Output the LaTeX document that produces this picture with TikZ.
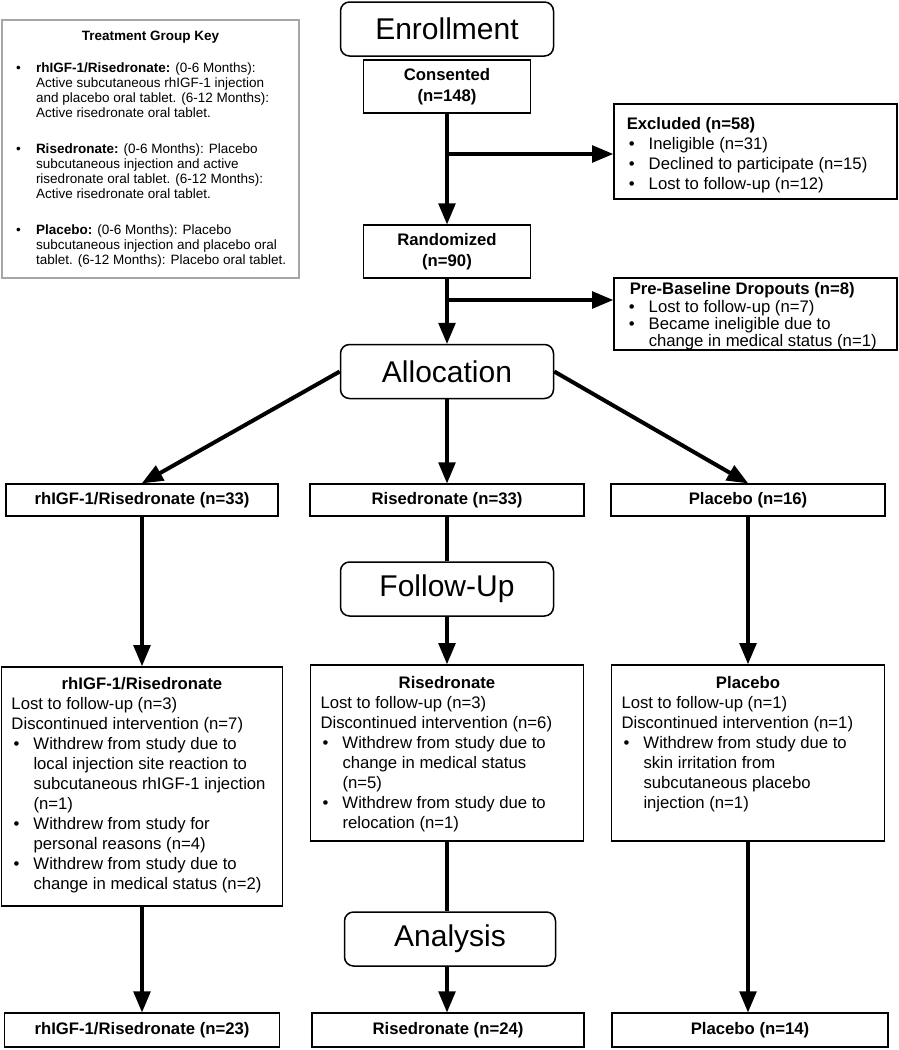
\documentclass[tikz,border=0pt]{standalone}
\usepackage{fontspec}
\setmainfont{Liberation Sans}
\usetikzlibrary{positioning,arrows,calc}
\tikzset{
  stagebox/.style = {shape=rectangle, rounded corners=9pt, draw,
                     line width=1.5pt, inner sep=0pt,
                     minimum width=213pt, minimum height=54pt,
                     font=\fontsize{30}{36}\selectfont},
  countbox/.style = {shape=rectangle, draw, line width=1.5pt,
                     align=center, inner sep=0pt,
                     font=\fontsize{16.7}{21}\selectfont\bfseries},
  listbox/.style  = {shape=rectangle, draw, line width=1.5pt,
                     anchor=north west, inner xsep=13pt,
                     font=\fontsize{16.7}{20}\selectfont},
  armbox/.style   = {shape=rectangle, draw, line width=1.5pt, anchor=north,
                     inner xsep=10pt, inner ysep=12pt,
                     font=\fontsize{16.7}{20}\selectfont},
  keybox/.style   = {shape=rectangle, draw=black!35, line width=2pt,
                     anchor=north west, inner xsep=12pt, inner ysep=11pt,
                     font=\fontsize{13.5}{15}\selectfont},
  flow/.style     = {->, line width=4pt},
  link/.style     = {line width=4pt}
}
\newcommand{\bitem}[1]{\par\noindent\hangindent=22pt\hangafter=1%
  \makebox[22pt][l]{\hspace{2pt}\textbullet}{\let\\\newline #1}\par}

\begin{document}
\begin{tikzpicture}[x=1pt, y=-1pt, >=triangle 45]
\useasboundingbox (0,0) rectangle (898,1050);

% key
\node [keybox] (key) at (1,19) {\parbox[c][236pt][t]{273pt}{\raggedright
  {\centering\bfseries Treatment Group Key\par}
  \vspace{17pt}
  \bitem{\textbf{rhIGF-1/Risedronate:} (0-6 Months):\\Active subcutaneous rhIGF-1 injection\\and placebo oral tablet. (6-12 Months):\\Active risedronate oral tablet.}
  \vspace{21pt}
  \bitem{\textbf{Risedronate:} (0-6 Months): Placebo\\subcutaneous injection and active\\risedronate oral tablet. (6-12 Months):\\Active risedronate oral tablet.}
  \vspace{21pt}
  \bitem{\textbf{Placebo:} (0-6 Months): Placebo\\subcutaneous injection and placebo oral\\tablet. (6-12 Months): Placebo oral tablet.}}};

% enrollment
\node [stagebox] (enroll) at (447,29) {Enrollment};
\node [countbox, minimum width=167pt, minimum height=53pt] (cons) at (447,86.5) {Consented\\(n=148)};
\node [listbox, inner ysep=14pt] (excl) at (613,103) {\parbox[c][67pt][t]{257pt}{\raggedright
  \textbf{Excluded (n=58)}\par
  \bitem{Ineligible (n=31)}
  \bitem{Declined to participate (n=15)}
  \bitem{Lost to follow-up (n=12)}}};
\node [countbox, minimum width=167pt, minimum height=53pt] (rand) at (447,251.5) {Randomized\\(n=90)};
\node [listbox, inner ysep=5pt, font=\fontsize{16.7}{17.3}\selectfont] (drop) at (613,277) {\parbox[c][62pt][t]{257pt}{\raggedright
  \hspace*{3pt}\textbf{Pre-Baseline Dropouts (n=8)}\par
  \bitem{Lost to follow-up (n=7)}
  \bitem{Became ineligible due to\\change in medical status (n=1)}}};

% allocation
\node [stagebox] (alloc) at (447,371.5) {Allocation};
\node [countbox, minimum width=272pt, minimum height=32pt] (rh2)  at (142,500) {rhIGF-1/Risedronate (n=33)};
\node [countbox, minimum width=274pt, minimum height=32pt] (ris2) at (447,500) {Risedronate (n=33)};
\node [countbox, minimum width=274pt, minimum height=32pt] (pla2) at (748,500) {Placebo (n=16)};

% follow-up
\node [stagebox] (follow) at (447,589) {Follow-Up};
\node [armbox, inner ysep=11pt] (rh3) at (142,666) {\parbox[c][217pt][t]{261pt}{\raggedright
  {\centering\bfseries rhIGF-1/Risedronate\par}
  Lost to follow-up (n=3)\\
  Discontinued intervention (n=7)\par
  \bitem{Withdrew from study due to\\local injection site reaction to\\subcutaneous rhIGF-1 injection\\(n=1)}
  \bitem{Withdrew from study for\\personal reasons (n=4)}
  \bitem{Withdrew from study due to\\change in medical status (n=2)}}};
\node [armbox] (ris3) at (447,664) {\parbox[c][152pt][t]{253pt}{\raggedright
  {\centering\bfseries Risedronate\par}
  Lost to follow-up (n=3)\\
  Discontinued intervention (n=6)\par
  \bitem{Withdrew from study due to\\change in medical status\\(n=5)}
  \bitem{Withdrew from study due to\\relocation (n=1)}}};
\node [armbox] (pla3) at (748,664) {\parbox[c][152pt][t]{253pt}{\raggedright
  {\centering\bfseries Placebo\par}
  Lost to follow-up (n=1)\\
  Discontinued intervention (n=1)\par
  \bitem{Withdrew from study due to\\skin irritation from\\subcutaneous placebo\\injection (n=1)}}};

% analysis
\node [stagebox, minimum width=211pt] (anal) at (450,939) {Analysis};
\node [countbox, minimum width=275pt, minimum height=34pt] (rh4)  at (142,1030) {rhIGF-1/Risedronate (n=23)};
\node [countbox, minimum width=272pt, minimum height=34pt] (ris4) at (448,1030) {Risedronate (n=24)};
\node [countbox, minimum width=276pt, minimum height=34pt] (pla4) at (750,1030) {Placebo (n=14)};

% connectors
\coordinate (split1) at (447,154);
\coordinate (split2) at (447,300);
\draw [flow] (cons) -- (rand);
\draw [flow] (split1) -- (split1 -| excl.west);
\draw [flow] (rand) -- (alloc);
\draw [flow] (split2) -- (split2 -| drop.west);
\draw [flow] (alloc.west) -- (rh2.north);
\draw [flow] (alloc) -- (ris2);
\draw [flow] (alloc.east) -- (pla2.north);
\draw [flow] (rh2) -- (rh3);
\draw [link] (ris2) -- (follow);
\draw [flow] (follow) -- (ris3);
\draw [flow] (pla2) -- (pla3);
\draw [flow] (rh3) -- (rh4);
\draw [link] (ris3.south) -- (ris3.south |- anal.north);
\draw [flow] (ris3.south |- anal.south) -- (ris3.south |- ris4.north);
\draw [flow] (pla3.south) -- (pla3.south |- pla4.north);
\end{tikzpicture}
\end{document}
